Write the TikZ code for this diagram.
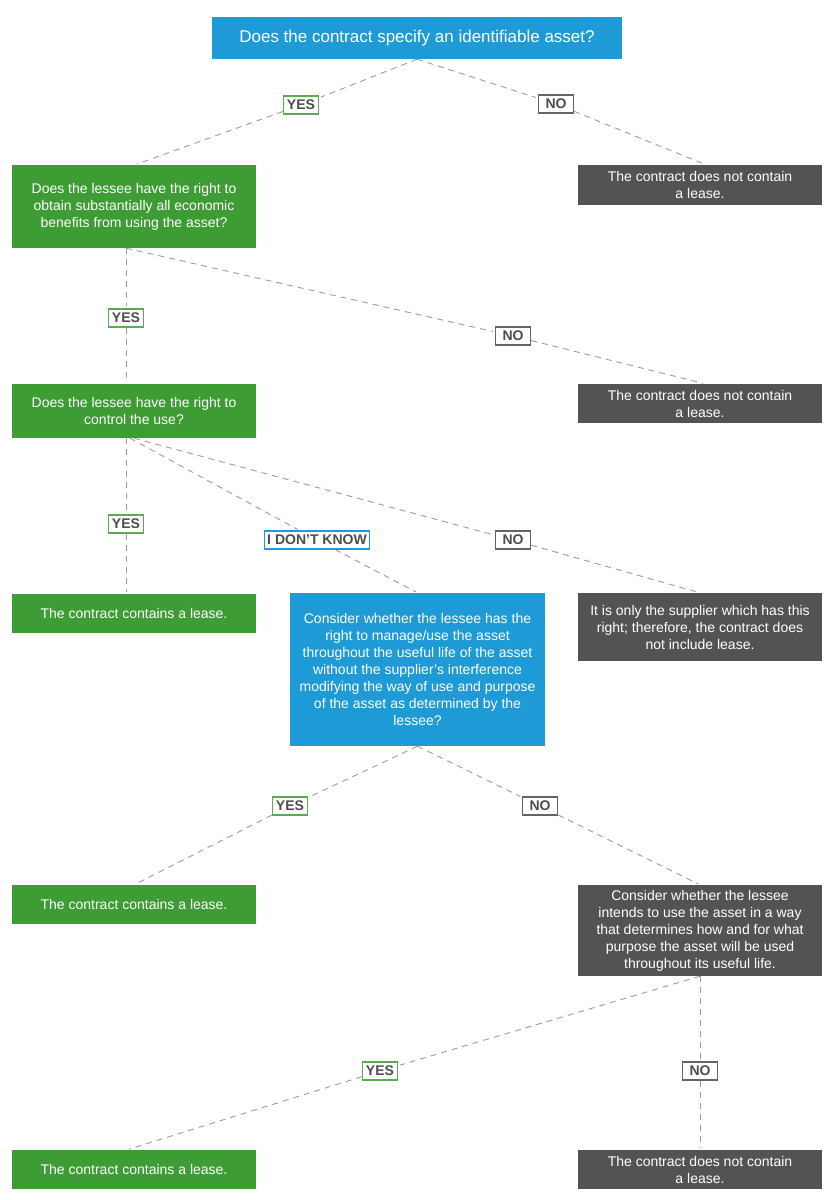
\documentclass[tikz,border=0pt]{standalone}
\usepackage{fontspec}
\setmainfont{Liberation Sans}
\usetikzlibrary{calc}
\definecolor{cblue}{HTML}{1E9BD7}
\definecolor{cgreen}{HTML}{3E9C35}
\definecolor{cgrey}{HTML}{535353}
\definecolor{cline}{HTML}{9B9B9B}
\definecolor{ctext}{HTML}{4D4D4D}
\begin{document}
\begin{tikzpicture}[x=1pt,y=-1pt,
 box/.style={rectangle, inner sep=0pt, text=white, align=center, font=\fontsize{14}{17}\selectfont, minimum width=244pt},
 bluebox/.style={box, fill=cblue},
 greenbox/.style={box, fill=cgreen},
 greybox/.style={box, fill=cgrey},
 lbl/.style={rectangle, fill=white, draw, line width=1.2pt, inner xsep=3pt, inner ysep=0pt, minimum width=35pt, minimum height=18pt, text=ctext, font=\fontsize{14}{14}\selectfont\bfseries},
 yeslbl/.style={lbl, draw=cgreen!85},
 nolbl/.style={lbl, draw=cgrey!90},
 idklbl/.style={lbl, draw=cblue},
 conn/.style={draw=cline, line width=0.9pt, dash pattern=on 6pt off 5pt, shorten >=2pt}
]
\useasboundingbox (0,0) rectangle (835,1200);

% boxes
\node[bluebox, minimum width=410pt, minimum height=42pt, font=\fontsize{17}{20}\selectfont] (top) at (417,38) {Does the contract specify an identifiable asset?};
\node[greenbox, minimum height=83pt] (q1) at (134,206.5) {Does the lessee have the right to\\obtain substantially all economic\\benefits from using the asset?};
\node[greybox, minimum height=40pt] (r1) at (700,185) {The contract does not contain\\a lease.};
\node[greenbox, minimum height=54pt] (q2) at (134,411) {Does the lessee have the right to\\control the use?};
\node[greybox, minimum height=39pt] (r2) at (700,403.5) {The contract does not contain\\a lease.};
\node[greenbox, minimum height=39pt] (l1) at (134,613.5) {The contract contains a lease.};
\node[bluebox, minimum width=255pt, minimum height=153pt] (q3) at (417.5,669.5) {Consider whether the lessee has the\\right to manage/use the asset\\throughout the useful life of the asset\\without the supplier’s interference\\modifying the way of use and purpose\\of the asset as determined by the\\lessee?};
\node[greybox, minimum height=68pt] (r3) at (700,627) {It is only the supplier which has this\\right; therefore, the contract does\\not include lease.};
\node[greenbox, minimum height=39pt] (l2) at (134,904.5) {The contract contains a lease.};
\node[greybox, minimum height=91pt] (q4) at (700,930.5) {Consider whether the lessee\\intends to use the asset in a way\\that determines how and for what\\purpose the asset will be used\\throughout its useful life.};
\node[greenbox, minimum height=39pt] (l3) at (134,1169.5) {The contract contains a lease.};
\node[greybox, minimum height=39pt] (r4) at (700,1169.5) {The contract does not contain\\a lease.};

% labels
\node[yeslbl] (yes1) at (301,105) {YES};
\node[nolbl] (no1) at (556,104) {NO};
\node[yeslbl] (yes2) at (126,318) {YES};
\node[nolbl] (no2) at (513,336) {NO};
\node[yeslbl] (yes3) at (126,524) {YES};
\node[idklbl] (idk) at (317,540) {I DON’T KNOW};
\node[nolbl] (no3) at (513,540) {NO};
\node[yeslbl] (yes4) at (290,806) {YES};
\node[nolbl] (no4) at (540,806) {NO};
\node[yeslbl] (yes5) at (380,1071) {YES};
\node[nolbl] (no5) at (700,1071) {NO};

% connectors
\coordinate (q1t) at ($(q1.north)+(1,0)$);
\coordinate (r1t) at ($(r1.north)+(6,0)$);
\coordinate (r2t) at ($(r2.north)+(5,0)$);
\coordinate (l3t) at ($(l3.north)+(-7,0)$);
\path[conn] (top.south) -- (yes1);
\path[conn] (yes1) -- (q1t);
\path[conn] (top.south) -- (no1);
\path[conn] (no1) -- (r1t);
\path[conn] (q1.south -| yes2) -- (yes2);
\path[conn] (yes2) -- (q2.north -| yes2);
\path[conn] (q1.south -| yes2) -- (no2);
\path[conn] (no2) -- (r2t);
\path[conn] (q2.south -| yes3) -- (yes3);
\path[conn] (yes3) -- (l1.north -| yes3);
\path[conn] ($(q2.south)+(-4,0)$) -- (idk);
\path[conn] (idk) -- (q3.north);
\path[conn] (q2.south) -- (no3);
\path[conn] (no3) -- (r3.north);
\path[conn] (q3.south) -- (yes4);
\path[conn] (yes4) -- (l2.north);
\path[conn] (q3.south) -- (no4);
\path[conn] (no4) -- (q4.north);
\path[conn] (q4.south) -- (yes5);
\path[conn] (yes5) -- (l3t);
\path[conn] (q4.south) -- (no5);
\path[conn] (no5) -- (r4.north);
\end{tikzpicture}
\end{document}
